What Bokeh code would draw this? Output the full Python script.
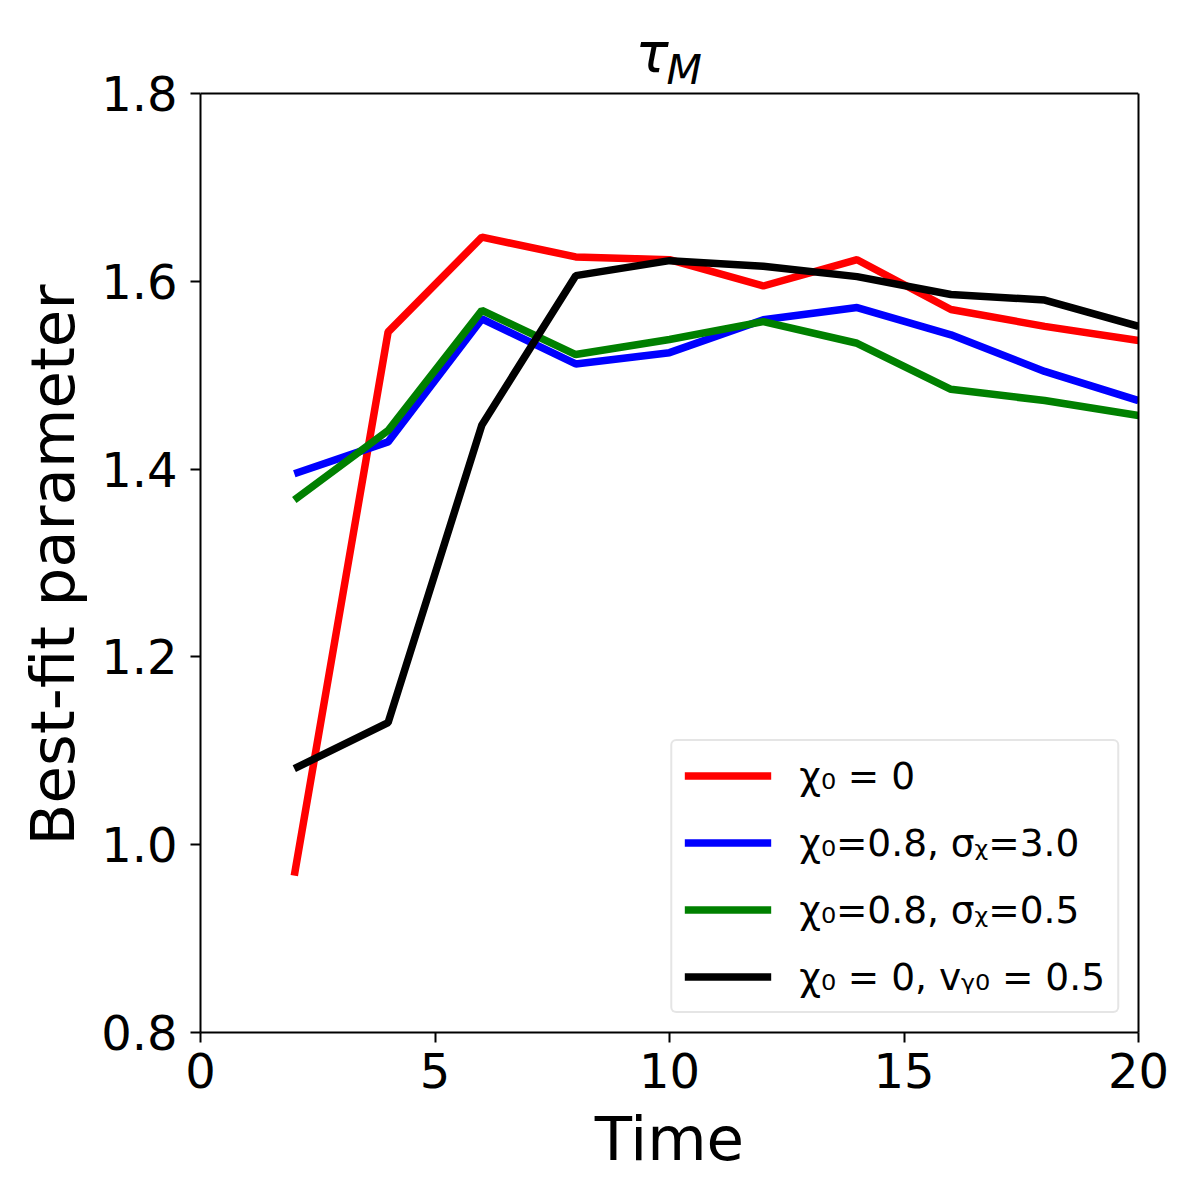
from bokeh.plotting import figure
from bokeh.models import (Legend, LegendItem, Label, FixedTicker, Range1d, Span,
                          LinearAxis)
from bokeh.embed import file_html
from bokeh.resources import INLINE

time = [2, 4, 6, 8, 10, 12, 14, 16, 18, 20]
red = [0.967, 1.546, 1.647, 1.626, 1.623, 1.595, 1.623, 1.570, 1.552, 1.537]
blue = [1.395, 1.429, 1.560, 1.512, 1.524, 1.559, 1.572, 1.543, 1.504, 1.473]
green = [1.367, 1.441, 1.569, 1.522, 1.538, 1.557, 1.534, 1.485, 1.473, 1.457]
black = [1.081, 1.130, 1.447, 1.606, 1.622, 1.616, 1.605, 1.586, 1.580, 1.552]
labels = ["χ₀ = 0", "χ₀=0.8, σᵪ=3.0", "χ₀=0.8, σᵪ=0.5", "χ₀ = 0, vᵧ₀ = 0.5"]
colors = ["red", "blue", "green", "black"]
xticks = [0, 5, 10, 15, 20]
yticks = [0.8, 1.0, 1.2, 1.4, 1.6, 1.8]
x_lo, x_hi = 0, 20
y_lo, y_hi = 0.8, 1.8

FONT = "DejaVu Sans"
AXES_H = 939          # height of the axes box in px
TITLE_H = 93          # space above the axes box that holds the title
y_top = y_hi + (y_hi - y_lo) * TITLE_H / AXES_H

p = figure(width=1184, height=1184, output_backend="svg", toolbar_location=None,
           x_range=Range1d(x_lo, x_hi), y_range=Range1d(y_lo, y_top),
           min_border_left=200, min_border_right=46, min_border_top=0, min_border_bottom=152)
p.frame_width = 938
p.frame_height = AXES_H + TITLE_H
p.grid.visible = False
p.outline_line_color = None

for ax in (p.xaxis[0], p.yaxis[0]):
    ax.major_label_text_font = FONT
    ax.major_label_text_font_size = "48px"
    ax.axis_label_text_font = FONT
    ax.axis_label_text_font_size = "61px"
    ax.axis_label_text_font_style = "normal"
    ax.axis_label_text_color = "black"
    ax.major_tick_out = 10
    ax.major_tick_in = 0
    ax.minor_tick_out = 0
    ax.minor_tick_in = 0
    ax.major_tick_line_width = 2
    ax.axis_line_width = 2
    ax.major_label_text_color = "black"

p.yaxis[0].bounds = (y_lo, y_hi)
p.xaxis.major_label_standoff = 10
p.yaxis.major_label_standoff = 13
p.xaxis.ticker = FixedTicker(ticks=xticks)
p.yaxis.ticker = FixedTicker(ticks=yticks)
p.xaxis.major_label_overrides = {t: str(t) for t in xticks}
p.yaxis.major_label_overrides = {t: f"{t:.1f}" for t in yticks}
p.xaxis.axis_label = "Time"
# trailing no-break spaces re-centre the label on the axes box (below the title area)
p.yaxis.axis_label = "Best-fit parameter" + "\u00a0" * 5
p.xaxis.axis_label_standoff = 12
p.yaxis.axis_label_standoff = 10

# right and top edges of the axes box
right_ax = LinearAxis(bounds=(y_lo, y_hi), ticker=FixedTicker(ticks=[]),
                      axis_line_width=2, axis_line_color="black",
                      major_tick_out=0, major_tick_in=0, minor_tick_out=0, minor_tick_in=0,
                      major_label_text_font_size="0px", major_label_standoff=0)
p.add_layout(right_ax, "right")
p.add_layout(Span(location=y_hi, dimension="width", line_color="black", line_width=2))

items = []
for ys, c, lab in zip([red, blue, green, black], colors, labels):
    r = p.line(time, ys, line_color=c, line_width=7.5)
    items.append(LegendItem(label=lab, renderers=[r]))

legend = Legend(items=items, location="bottom_right",
                label_text_font=FONT, label_text_font_size="37.5px",
                label_text_color="black",
                glyph_width=87, glyph_height=45, label_standoff=28,
                spacing=22, padding=12, margin=19,
                border_line_color="#cccccc", border_line_width=2,
                border_radius=6, background_fill_alpha=0.8)
p.add_layout(legend)

# title  τ_M  (above the axes box, inside the title area)
p.add_layout(Label(x=435, y=AXES_H + TITLE_H - 73 + 21, x_units="screen", y_units="screen",
                   text="τ", text_font=FONT, text_font_size="55px", text_font_style="italic",
                   text_color="black", text_baseline="alphabetic"))
p.add_layout(Label(x=466, y=AXES_H + TITLE_H - 83 + 14, x_units="screen", y_units="screen",
                   text="M", text_font=FONT, text_font_size="41px", text_font_style="italic",
                   text_color="black", text_baseline="alphabetic"))

open("out.html", "w").write(file_html(p, INLINE))
